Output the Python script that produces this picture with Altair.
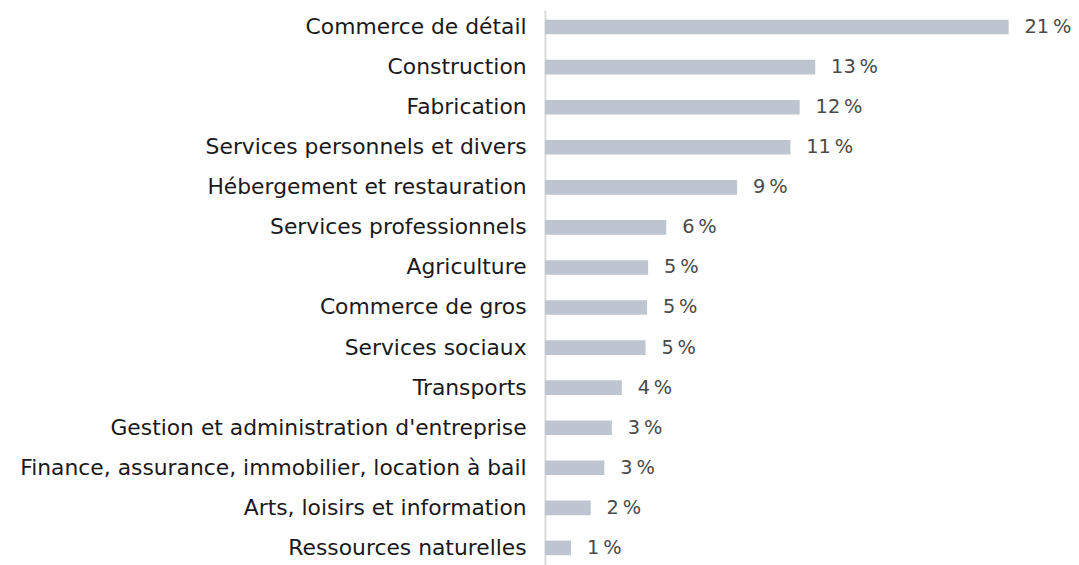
import altair as alt
import pandas as pd

categories = [
    "Commerce de détail",
    "Construction",
    "Fabrication",
    "Services personnels et divers",
    "Hébergement et restauration",
    "Services professionnels",
    "Agriculture",
    "Commerce de gros",
    "Services sociaux",
    "Transports",
    "Gestion et administration d'entreprise",
    "Finance, assurance, immobilier, location à bail",
    "Arts, loisirs et information",
    "Ressources naturelles",
]
values = [21.48, 12.52, 11.80, 11.37, 8.90, 5.62, 4.78, 4.73, 4.66, 3.56, 3.10, 2.75, 2.12, 1.21]
value_labels = ["21\u202f%", "13\u202f%", "12\u202f%", "11\u202f%", "9\u202f%", "6\u202f%", "5\u202f%",
                "5\u202f%", "5\u202f%", "4\u202f%", "3\u202f%", "3\u202f%", "2\u202f%", "1\u202f%"]

df = pd.DataFrame({"cat": categories, "val": values, "lab": value_labels})

FONT = "DejaVu Sans"

y_enc = alt.Y(
    "cat:N",
    sort=categories,
    title=None,
    scale=alt.Scale(paddingInner=0.636, paddingOuter=0.242),
    axis=alt.Axis(
        labelFont=FONT,
        labelFontSize=22,
        labelColor="#1a1a1a",
        labelPadding=19,
        ticks=False,
        domainColor="#d9d9d9",
        domainWidth=2,
        labelLimit=0,
    ),
)
x_enc = alt.X(
    "val:Q",
    title=None,
    scale=alt.Scale(domain=[0, 24], nice=False),
    axis=None,
)

bars = alt.Chart(df).mark_bar(color="#bdc6d0").encode(x=x_enc, y=y_enc)
text = alt.Chart(df).mark_text(
    align="left", baseline="middle", dx=16, font=FONT, fontSize=19.5, color="#4a4a4a"
).encode(x=x_enc, y=y_enc, text="lab:N")

chart = (
    alt.layer(bars, text)
    .properties(
        width=522,
        height=559,
        autosize=alt.AutoSizeParams(type="none"),
        padding={"left": 541, "right": 8, "top": 0, "bottom": 0},
    )
    .configure_view(stroke=None)
)

chart.save("out.html", embed_options={"renderer": "svg", "actions": False})
